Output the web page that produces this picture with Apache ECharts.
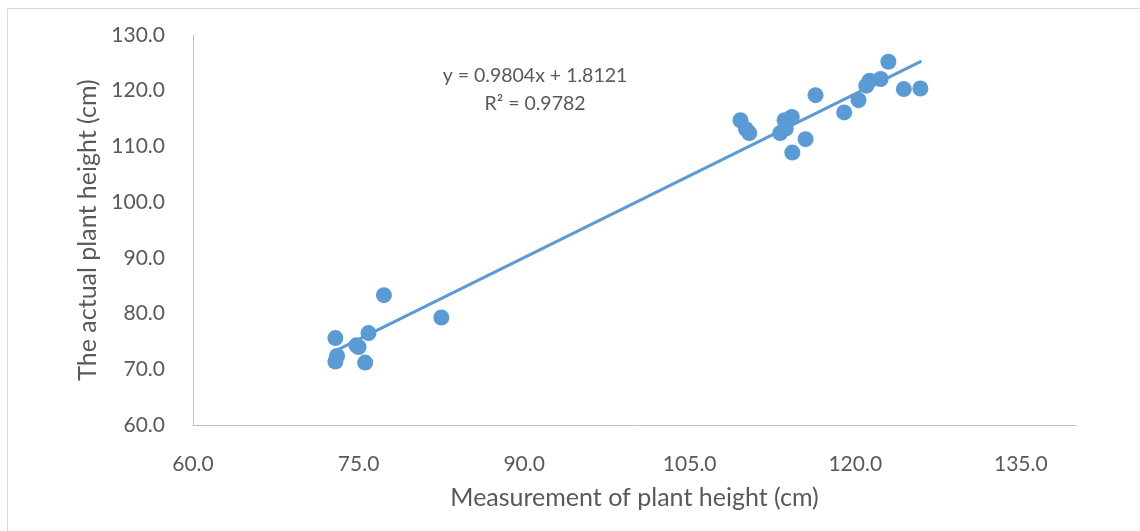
<!DOCTYPE html>
<html>
<head>
<meta charset="utf-8">
<script src="https://cdn.jsdelivr.net/npm/echarts@6/dist/echarts.min.js"></script>
<style>
  html, body { margin: 0; padding: 0; background: #fff; }
  #charts { width: 1140px; height: 531px; }
</style>
</head>
<body>
<div id="charts"></div>
<script>
// measured (x) vs actual (y) plant height, cm
var measured = [
    77.3, 82.5, 72.9, 75.9, 74.8, 75.0, 73.05, 72.9, 75.6,
    109.6, 110.1, 110.4, 114.25, 113.6, 113.2, 113.7, 116.4, 115.5, 114.3,
    123.0, 122.3, 121.3, 121.0, 120.3, 119.0, 124.4, 125.9
];
var actual = [
    83.3, 79.3, 75.6, 76.5, 74.3, 74.0, 72.4, 71.4, 71.2,
    114.7, 113.1, 112.4, 115.3, 114.7, 112.4, 113.2, 119.2, 111.3, 108.9,
    125.2, 122.1, 121.8, 120.9, 118.3, 116.1, 120.3, 120.4
];
// trendline end points (y = 0.9804x + 1.8121)
var trendX = [72.9, 126.0];
var trendY = [73.3, 125.3];
var equationText = ["y = 0.9804x + 1.8121", "R² = 0.9782"];

var charts = echarts.init(document.getElementById('charts'));

var points = [];
for (var i = 0; i < measured.length; i++) {
    points.push([measured[i], actual[i]]);
}
var trend = [];
for (var j = 0; j < trendX.length; j++) {
    trend.push([trendX[j], trendY[j]]);
}

var textColor = "#595959";
var fontFamily = "Lato, 'Open Sans', sans-serif";

var option = {
    backgroundColor: "#fff",
    animation: false,
    grid: {
        left: 193,
        top: 35,
        right: 64,
        bottom: 106,
    },
    graphic: [
        {
            type: "rect",
            shape: { x: 7.5, y: 8.5, width: 1200, height: 600 },
            style: { fill: "none", stroke: "#d9d9d9", lineWidth: 1 },
            silent: true,
        },
        {
            type: "text",
            x: 535,
            y: 62,
            style: {
                text: equationText.join("\n"),
                align: "center",
                verticalAlign: "top",
                fill: textColor,
                font: "19.5px " + fontFamily,
                lineHeight: 28,
            },
        },
    ],
    xAxis: {
        type: "value",
        min: 60,
        max: 140,
        interval: 15,
        name: "Measurement of plant height (cm)",
        nameLocation: "middle",
        nameGap: 60,
        nameTextStyle: { color: textColor, fontSize: 25, fontFamily: fontFamily },
        axisLine: { show: true, lineStyle: { color: "#bfbfbf", width: 1 } },
        axisTick: { show: false },
        splitLine: { show: false },
        axisLabel: {
            showMaxLabel: false,
            color: textColor,
            fontSize: 21,
            fontFamily: fontFamily,
            margin: 29,
            formatter: function (v) { return v.toFixed(1); },
        },
    },
    yAxis: {
        type: "value",
        min: 60,
        max: 130,
        interval: 10,
        name: "The actual plant height (cm)",
        nameLocation: "middle",
        nameGap: 93,
        nameTextStyle: { color: textColor, fontSize: 25, fontFamily: fontFamily },
        axisLine: { show: true, lineStyle: { color: "#bfbfbf", width: 1 } },
        axisTick: { show: false },
        splitLine: { show: false },
        axisLabel: {
            color: textColor,
            fontSize: 21,
            fontFamily: fontFamily,
            margin: 28,
            formatter: function (v) { return v.toFixed(1); },
        },
    },
    series: [
        {
            name: "trend",
            type: "line",
            data: trend,
            symbol: "none",
            lineStyle: { color: "#5B9BD5", width: 3 },
            z: 1,
        },
        {
            name: "plant height",
            type: "scatter",
            data: points,
            symbolSize: 16,
            itemStyle: { color: "#5B9BD5", opacity: 1 },
            z: 2,
        },
    ],
};

charts.setOption(option);
</script>
</body>
</html>
